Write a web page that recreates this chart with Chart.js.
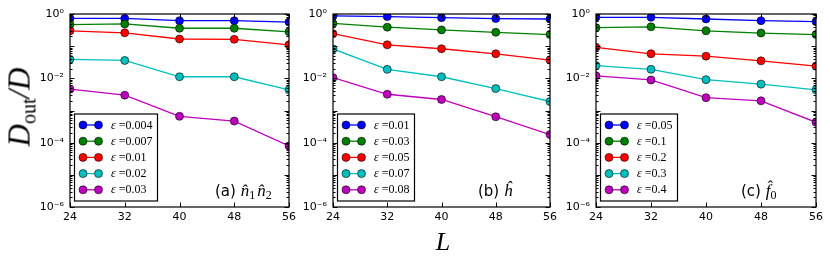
<!DOCTYPE html>
<html><head><meta charset="utf-8">
<script src="https://cdn.jsdelivr.net/npm/chart.js@4.4.1/dist/chart.umd.min.js"></script>
<style>
html,body{margin:0;padding:0;background:#fff;width:830px;height:262px;overflow:hidden;position:relative}
.box{position:absolute;top:0;height:262px}
#ytitle{position:absolute;left:21px;top:107px;transform:translate(-50%,-50%) rotate(-90deg);font:italic 31px 'Liberation Serif',serif;white-space:nowrap;color:#000}
#ytitle sub{font-style:normal;font-size:20px;vertical-align:-6px}
#xtitle{position:absolute;left:443px;top:242px;transform:translate(-50%,-50%);font:italic 26px 'Liberation Serif',serif;color:#000}
</style></head><body>
<div class="box" style="left:30px;width:270px"><canvas id="cA"></canvas></div>
<div class="box" style="left:293px;width:268px"><canvas id="cB"></canvas></div>
<div class="box" style="left:556px;width:271px"><canvas id="cC"></canvas></div>
<div id="ytitle">D<sub>out</sub>/D</div>
<div id="xtitle">L</div>
<script>
// ---- data ----
const L = [24, 32, 40, 48, 56];
const xTicks = [24, 32, 40, 48, 56];
const yTickExps = [0, -2, -4, -6];

// panel (a): n1 n2
const epsA = ['0.004', '0.007', '0.01', '0.02', '0.03'];
const a_0004 = [0.73, 0.73, 0.62, 0.62, 0.56];
const a_0007 = [0.47, 0.49, 0.36, 0.36, 0.28];
const a_001  = [0.30, 0.26, 0.167, 0.163, 0.11];
const a_002  = [0.039, 0.036, 0.0112, 0.0112, 0.0044];
const a_003  = [0.0046, 0.0030, 0.00066, 0.00047, 0.000079];

// panel (b): h
const epsB = ['0.01', '0.03', '0.05', '0.07', '0.08'];
const b_001 = [0.87, 0.83, 0.77, 0.72, 0.70];
const b_003 = [0.51, 0.39, 0.32, 0.27, 0.23];
const b_005 = [0.245, 0.11, 0.083, 0.058, 0.037];
const b_007 = [0.082, 0.019, 0.0112, 0.0048, 0.0019];
const b_008 = [0.0105, 0.0032, 0.0022, 0.00064, 0.000178];

// panel (c): f0
const epsC = ['0.05', '0.1', '0.2', '0.3', '0.4'];
const c_005 = [0.79, 0.79, 0.70, 0.62, 0.58];
const c_01  = [0.376, 0.40, 0.30, 0.256, 0.23];
const c_02  = [0.092, 0.058, 0.049, 0.035, 0.024];
const c_03  = [0.025, 0.019, 0.0091, 0.0066, 0.0044];
const c_04  = [0.012, 0.0089, 0.0025, 0.0020, 0.00043];

const colors = ['#0000ff', '#008000', '#ff0000', '#00bfbf', '#bf00bf'];

// ---- helpers ----
const SUP = {'0':'⁰','1':'¹','2':'²','3':'³','4':'⁴','5':'⁵','6':'⁶','7':'⁷','8':'⁸','9':'⁹','-':'⁻'};
function supStr(s){ return String(s).split('').map(c => SUP[c] || c).join(''); }

const yTickValues = [];
for (let e = -6; e <= 0; e++) {
  yTickValues.push(Math.pow(10, e));
  if (e < 0) for (let m = 2; m <= 9; m++) yTickValues.push(m * Math.pow(10, e));
}

const framePlugin = {
  id: 'frame',
  afterDatasetsDraw(chart) {
    const ctx = chart.ctx, a = chart.chartArea;
    const ys = chart.scales.y, xs = chart.scales.x;
    ctx.save();
    ctx.strokeStyle = '#000';
    ctx.lineWidth = 1;
    ctx.beginPath();
    yTickValues.forEach(v => {
      const e = Math.log10(v);
      const major = Math.abs(e - Math.round(e)) < 1e-9;
      const len = major ? 4.5 : 2.5;
      const y = Math.round(ys.getPixelForValue(v)) + 0.5;
      ctx.moveTo(a.left, y); ctx.lineTo(a.left + len, y);
      ctx.moveTo(a.right, y); ctx.lineTo(a.right - len, y);
    });
    xTicks.forEach(v => {
      const x = Math.round(xs.getPixelForValue(v)) + 0.5;
      ctx.moveTo(x, a.bottom); ctx.lineTo(x, a.bottom - 4.5);
      ctx.moveTo(x, a.top); ctx.lineTo(x, a.top + 4.5);
    });
    ctx.stroke();
    ctx.lineWidth = 1.2;
    ctx.strokeRect(a.left, a.top, a.right - a.left, a.bottom - a.top);
    ctx.restore();
  }
};

const legendPlugin = {
  id: 'boxLegend',
  afterDraw(chart, args, opts) {
    const ctx = chart.ctx, a = chart.chartArea;
    const eps = opts.eps;
    const fs = 12;
    ctx.save();
    ctx.textBaseline = 'middle';
    let maxW = 0;
    eps.forEach(t => {
      ctx.font = `italic ${fs}px 'Liberation Serif'`;
      let w = ctx.measureText('ε').width;
      ctx.font = `${fs}px 'Liberation Serif'`;
      w += ctx.measureText(' =' + t).width;
      maxW = Math.max(maxW, w);
    });
    const left = a.left + 4.5, bottom = a.bottom - 6;
    const h = 87, top = bottom - h;
    const w = 36.5 + maxW + 5;
    ctx.fillStyle = '#fff';
    ctx.fillRect(left, top, w, h);
    ctx.strokeStyle = '#000';
    ctx.lineWidth = 1.2;
    ctx.strokeRect(left, top, w, h);
    eps.forEach((t, i) => {
      const y = top + 11 + i * 16.2;
      const x1 = left + 8.5, x2 = left + 24;
      ctx.strokeStyle = colors[i];
      ctx.lineWidth = 1.3;
      ctx.beginPath(); ctx.moveTo(x1, y); ctx.lineTo(x2, y); ctx.stroke();
      [x1, x2].forEach(x => {
        ctx.beginPath(); ctx.arc(x, y, 4, 0, Math.PI * 2);
        ctx.fillStyle = colors[i]; ctx.fill();
        ctx.strokeStyle = '#000'; ctx.lineWidth = 0.6; ctx.stroke();
      });
      ctx.fillStyle = '#000';
      let tx = left + 36.5;
      ctx.font = `italic ${fs}px 'Liberation Serif'`;
      ctx.fillText('ε', tx, y + 0.5);
      tx += ctx.measureText('ε').width;
      ctx.font = `${fs}px 'Liberation Serif'`;
      ctx.fillText(' =' + t, tx, y + 0.5);
    });
    // panel label
    const base = a.bottom - 11;
    let x = a.left + 145;
    ctx.textBaseline = 'alphabetic';
    ctx.font = "15px 'DejaVu Sans'";
    ctx.fillText(opts.tag + ' ', x, base);
    x += ctx.measureText(opts.tag + ' ').width;
    opts.math.forEach(part => {
      ctx.font = "italic 17px 'Liberation Serif'";
      ctx.fillText(part[0], x, base);
      x += ctx.measureText(part[0]).width;
      if (part[1]) {
        ctx.font = "12px 'Liberation Serif'";
        ctx.fillText(part[1], x, base + 3);
        x += ctx.measureText(part[1]).width + 2;
      }
    });
    ctx.restore();
  }
};

function makeChart(id, eps, series, tag, math) {
  const datasets = series.map((vals, i) => ({
    label: 'ε =' + eps[i],
    data: L.map((x, j) => ({x: x, y: vals[j]})),
    borderColor: colors[i],
    backgroundColor: colors[i],
    pointBackgroundColor: colors[i],
    pointBorderColor: '#000',
    pointBorderWidth: 0.6,
    pointRadius: 4,
    borderWidth: 1.3,
    tension: 0,
    clip: 0,
    order: 5 - i
  }));
  return new Chart(document.getElementById(id), {
    type: 'line',
    data: {datasets},
    options: {
      responsive: true,
      maintainAspectRatio: false,
      animation: false,
      events: [],
      layout: {padding: {top: 14, right: 11, left: 0, bottom: 0}},
      plugins: {
        legend: {display: false},
        tooltip: {enabled: false},
        boxLegend: {eps: eps, tag: tag, math: math}
      },
      scales: {
        x: {
          type: 'linear', min: 24, max: 56,
          afterBuildTicks: s => { s.ticks = xTicks.map(v => ({value: v})); },
          ticks: {font: {family: 'DejaVu Sans', size: 11}, color: '#000', padding: 4, maxRotation: 0, autoSkip: false},
          grid: {display: false, drawTicks: false},
          border: {display: false},
          afterFit: s => { s.height = 55; }
        },
        y: {
          type: 'logarithmic', min: 1e-6, max: 1,
          afterBuildTicks: s => { s.ticks = yTickValues.map(v => ({value: v})); },
          ticks: {
            font: {family: 'DejaVu Sans', size: 11}, color: '#000', padding: 6, autoSkip: false,
            callback: v => {
              const e = Math.log10(v), r = Math.round(e);
              if (Math.abs(e - r) < 1e-9 && yTickExps.includes(r)) return '10' + supStr(r);
              return '';
            }
          },
          grid: {display: false, drawTicks: false},
          border: {display: false},
          afterFit: s => { s.width = 40; }
        }
      }
    },
    plugins: [framePlugin, legendPlugin]
  });
}

makeChart('cA', epsA, [a_0004, a_0007, a_001, a_002, a_003], '(a)', [['n\u0302', '1'], ['n\u0302', '2']]);
makeChart('cB', epsB, [b_001, b_003, b_005, b_007, b_008], '(b)', [['\u0125', '']]);
makeChart('cC', epsC, [c_005, c_01, c_02, c_03, c_04], '(c)', [['f\u0302', '0']]);
</script>
</body></html>
